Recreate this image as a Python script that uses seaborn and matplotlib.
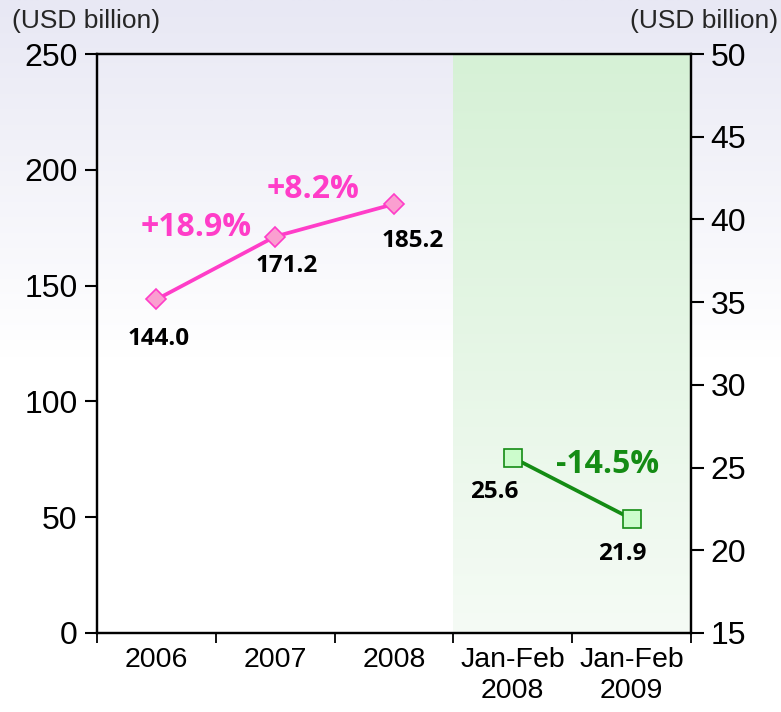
import numpy as np
import pandas as pd
import matplotlib
matplotlib.use("Agg")
import matplotlib.pyplot as plt
import seaborn as sns
from matplotlib.colors import LinearSegmentedColormap

# ---- data ----
categories = ["2006", "2007", "2008", "Jan-Feb\n2008", "Jan-Feb\n2009"]
annual_values = [144.0, 171.2, 185.2]
monthly_values = [25.6, 21.9]
annual_growth = ["+18.9%", "+8.2%"]
monthly_growth = ["-14.5%"]
left_ticks = [0, 50, 100, 150, 200, 250]
right_ticks = [15, 20, 25, 30, 35, 40, 45, 50]
unit_label = "(USD billion)"

pos = np.arange(len(categories))
df_annual = pd.DataFrame({"x": pos[:3], "value": annual_values})
df_month = pd.DataFrame({"x": pos[3:], "value": monthly_values})

sns.set_style("ticks")
plt.rcParams["font.family"] = ["Liberation Sans", "DejaVu Sans"]

W, H = 781, 712
fig = plt.figure(figsize=(W / 100, H / 100), dpi=100)

# figure background gradient (lavender -> white)
bg = fig.add_axes([0, 0, 1, 1], zorder=-10)
grad = np.linspace(0, 1, 256)[:, None]
bg_cmap = LinearSegmentedColormap.from_list("bg", [(0, "#e8e8f4"), (0.5, "#ffffff"), (1, "#ffffff")])
bg.imshow(grad, aspect="auto", cmap=bg_cmap, extent=(0, 1, 0, 1), origin="upper")
bg.set_axis_off()

ax = fig.add_axes([97 / W, 1 - 633 / H, 594 / W, 579 / H])
ax.set_facecolor("none")

# green shaded region for Jan-Feb comparison
g_cmap = LinearSegmentedColormap.from_list("g", ["#d6f1d6", "#f5fbf5"])
ax.imshow(grad, aspect="auto", cmap=g_cmap, extent=(2.5, 4.5, 0, 250),
          origin="upper", zorder=0)
ax.set_xlim(-0.5, 4.5)
ax.set_ylim(0, 250)

pink = "#ff3dc8"
green = "#148c14"
sns.lineplot(data=df_annual, x="x", y="value", ax=ax, color=pink, linewidth=2.7,
             marker="D", markersize=10, markerfacecolor="#fa9fd0",
             markeredgecolor=pink, markeredgewidth=1.2, zorder=5)

ax2 = ax.twinx()
ax2.set_ylim(15, 50)
sns.lineplot(data=df_month, x="x", y="value", ax=ax2, color=green, linewidth=2.7,
             marker="s", markersize=13.5, markerfacecolor="#ccfccc",
             markeredgecolor=green, markeredgewidth=1.2, zorder=5)
ax2.set_xlim(-0.5, 4.5)

# value labels
lab_font = dict(family=["Open Sans", "DejaVu Sans"], fontweight="bold", fontsize=17.5, color="black",
                ha="center", va="center")
annual_offsets = [(2, -40), (12, -29), (19, -37)]
for xv, yv, off in zip(df_annual["x"], annual_values, annual_offsets):
    ax.annotate(f"{yv:.1f}", (xv, yv), xytext=off, textcoords="offset pixels", **lab_font)
month_offsets = [(-19, -34), (-9, -35)]
for xv, yv, off in zip(df_month["x"], monthly_values, month_offsets):
    ax2.annotate(f"{yv:.1f}", (xv, yv), xytext=off, textcoords="offset pixels", **lab_font)

pct_font = dict(family=["Open Sans", "DejaVu Sans"], fontweight="bold", fontsize=23,
                ha="center", va="center")
annual_pct_offsets = [(-20, 40), (-22, 31)]
for i, (txt, off) in enumerate(zip(annual_growth, annual_pct_offsets)):
    mx = (df_annual["x"][i] + df_annual["x"][i + 1]) / 2
    my = (annual_values[i] + annual_values[i + 1]) / 2
    ax.annotate(txt, (mx, my), xytext=off, textcoords="offset pixels", color=pink, **pct_font)
mx = df_month["x"].mean()
my = np.mean(monthly_values)
ax2.annotate(monthly_growth[0], (mx, my), xytext=(35, 24), textcoords="offset pixels",
             color=green, **pct_font)

# axes styling
ax.set_xlabel("")
ax.set_ylabel("")
ax2.set_ylabel("")
ax.set_yticks(left_ticks)
ax2.set_yticks(right_ticks)
ax.set_xticks(np.arange(-0.5, 5, 1.0))
ax.set_xticklabels([])
ax.set_xticks(pos, minor=True)
ax.set_xticklabels(categories, minor=True, linespacing=1.25)
ax.tick_params(axis="x", which="minor", length=0, labelsize=20.5, pad=10, colors="black")
ax.tick_params(axis="x", which="major", length=7, width=1.3, direction="out", color="black")
ax.tick_params(axis="y", length=9, width=1.5, direction="out", labelsize=23, pad=5, colors="black")
ax2.tick_params(axis="y", length=9, width=1.5, direction="out", labelsize=23, pad=5, colors="black")
for a in (ax, ax2):
    for s in a.spines.values():
        s.set_visible(True)
        s.set_linewidth(1.6)
        s.set_color("black")

fig.text(12 / W, 1 - 21 / H, unit_label, ha="left", va="center", fontsize=19)
fig.text(778 / W, 1 - 21 / H, unit_label, ha="right", va="center", fontsize=19)

fig.savefig("out.png", dpi=100)
